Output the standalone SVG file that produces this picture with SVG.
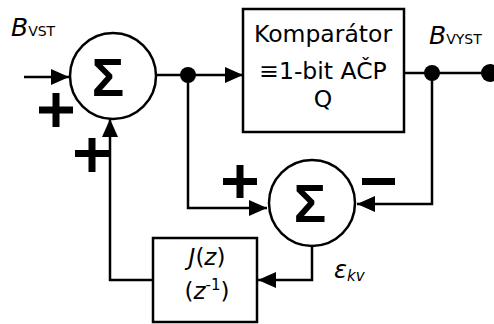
<svg xmlns="http://www.w3.org/2000/svg" width="494" height="324" viewBox="0 0 494 324">
<style>
.ln{fill:none;stroke:#000;stroke-width:2.5}
.nd{fill:#fff;stroke:#000;stroke-width:2.5}
.t{font-family:"DejaVu Sans",Verdana,sans-serif;fill:#000}
.sg{font-family:"Liberation Sans",Arial,sans-serif;font-weight:bold;font-size:54px;text-anchor:middle}
.pm{fill:#000}
</style>
<defs>
<marker id="ar" markerWidth="18" markerHeight="16" refX="18" refY="8" orient="auto" markerUnits="userSpaceOnUse">
<path d="M0,0 L18,8 L0,16 Z" fill="#000"/>
</marker>
</defs>
<g id="connectors">
<line class="ln" x1="24" y1="77" x2="69" y2="77" marker-end="url(#ar)"/>
<polyline class="ln" points="156,75 243,75" marker-end="url(#ar)"/>
<polyline class="ln" points="404,73 490,73"/>
<polyline class="ln" points="188,75 188,208 267,208" marker-end="url(#ar)"/>
<polyline class="ln" points="432,73 432,204 357,204" marker-end="url(#ar)"/>
<polyline class="ln" points="312,246 312,280 258,280" marker-end="url(#ar)"/>
<polyline class="ln" points="153,280 110,280 110,119" marker-end="url(#ar)"/>
<circle cx="188" cy="75" r="8" fill="#000"/>
<circle cx="432" cy="73" r="8" fill="#000"/>
<circle cx="490" cy="73" r="9" fill="#000"/>
</g>
<g id="sum1">
<circle class="nd" cx="113" cy="76" r="43"/>
<text class="t sg" x="108" y="96">Σ</text>
</g>
<g id="sum2">
<circle class="nd" cx="312" cy="203" r="43"/>
<text class="t sg" x="310" y="222">Σ</text>
</g>
<g id="comparator">
<rect class="nd" x="243" y="9" width="161" height="123"/>
<text class="t" x="323" y="42" font-size="23.5" text-anchor="middle">Komparátor</text>
<text class="t" x="323" y="79" font-size="23.5" text-anchor="middle">≡1-bit AČP</text>
<text class="t" x="323" y="107" font-size="23.5" text-anchor="middle">Q</text>
</g>
<g id="jbox">
<rect class="nd" x="153" y="238" width="104" height="84"/>
<text class="t" x="207" y="265" font-size="23" text-anchor="middle"><tspan font-style="italic">J</tspan>(<tspan font-style="italic">z</tspan>)</text>
<text class="t" x="207" y="299" font-size="23" text-anchor="middle">(<tspan font-style="italic">z</tspan><tspan font-size="15" dy="-9">-1</tspan><tspan dy="9">)</tspan></text>
</g>
<g id="labels">
<text class="t" x="11" y="36" font-size="25"><tspan font-style="italic">B</tspan><tspan font-size="14">VST</tspan></text>
<text class="t" x="429" y="44" font-size="25"><tspan font-style="italic">B</tspan><tspan font-size="14">VYST</tspan></text>
<text class="t" x="334" y="278" font-size="24" font-style="italic">ε<tspan font-size="15" dy="3">kv</tspan></text>
</g>
<g id="signs">
<rect class="pm" x="39" y="106.5" width="34" height="7"/>
<rect class="pm" x="52.5" y="93" width="7" height="34"/>
<rect class="pm" x="75" y="150" width="34" height="7"/>
<rect class="pm" x="88.5" y="138" width="7" height="34"/>
<rect class="pm" x="223" y="178" width="34" height="7"/>
<rect class="pm" x="236.5" y="165" width="7" height="33"/>
<rect class="pm" x="362" y="178" width="33" height="7"/>
</g>
</svg>
